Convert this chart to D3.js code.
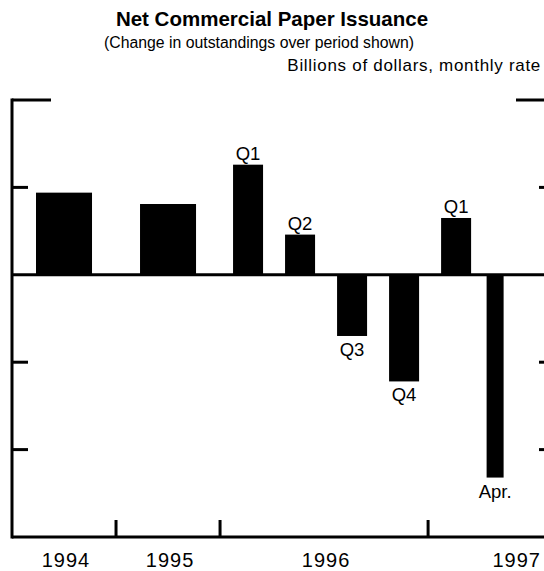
<!DOCTYPE html>
<html>
<head>
<meta charset="utf-8">
<script src="https://cdn.jsdelivr.net/npm/d3@7"></script>
<style>
  body { margin: 0; background: #fff; }
  svg { display: block; font-family: "Liberation Sans", Arial, sans-serif; }
  .axis-line { stroke: #000; stroke-width: 3; fill: none; }
  .bar { fill: #000; }
  .bar-label { font-size: 18.5px; }
  .year-label { font-size: 20px; letter-spacing: 1px; }
</style>
</head>
<body>
<svg width="544" height="571"></svg>
<script>
// periods shown, left to right
const periods = ["1994", "1995", "1996 Q1", "1996 Q2", "1996 Q3", "1996 Q4", "1997 Q1", "1997 Apr"]
const kinds = ["year", "year", "quarter", "quarter", "quarter", "quarter", "quarter", "month"]
const barLabels = ["", "", "Q1", "Q2", "Q3", "Q4", "Q1", "Apr."]
// billions of dollars, monthly rate
const values = [4.7, 4.05, 6.3, 2.3, -3.5, -6.1, 3.25, -11.6]
const years = ["1994", "1995", "1996", "1997"]
const yTicks = [-15, -10, -5, 0, 5, 10]

const W = 544, H = 571
const svg = d3.select("svg")

// each period gets room in proportion to its length type
const slotSize = { year: 2, quarter: 1, month: 0.5 }
let acc = 0
const slots = periods.map((p, i) => {
    const s = { start: acc, size: slotSize[kinds[i]], year: p.slice(0, 4) }
    acc += s.size
    return s
})

const x = d3.scaleLinear().domain([0, 10.44]).range([12, 555])
const y = d3.scaleLinear().domain([-15, 10]).range([537, 100])

// titles
svg.append("text")
    .attr("x", 272).attr("y", 26)
    .attr("text-anchor", "middle")
    .style("font-size", "20.5px").style("font-weight", "bold")
    .text("Net Commercial Paper Issuance")

svg.append("text")
    .attr("x", 259).attr("y", 48)
    .attr("text-anchor", "middle")
    .style("font-size", "15.8px")
    .text("(Change in outstandings over period shown)")

svg.append("text")
    .attr("x", 541).attr("y", 71)
    .attr("text-anchor", "end")
    .style("font-size", "17px").style("letter-spacing", "0.7px")
    .text("Billions of dollars, monthly rate")

// bars
const barW = d => x(d.size) - x(0)
const mid = s => x(s.start + s.size / 2) + (s.size < 2 ? 2 : 0)
svg.selectAll("rect.bar")
    .data(values)
    .enter()
    .append("rect")
    .attr("class", "bar")
    .attr("x", (d, i) => mid(slots[i]) - (barW(slots[i]) * 0.5 + 4) / 2)
    .attr("width", (d, i) => barW(slots[i]) * 0.5 + 4)
    .attr("y", d => y(Math.max(d, 0)))
    .attr("height", d => Math.abs(y(d) - y(0)))

// labels on the bars
svg.selectAll("text.bar-label")
    .data(values)
    .enter()
    .append("text")
    .attr("class", "bar-label")
    .attr("text-anchor", "middle")
    .attr("x", (d, i) => mid(slots[i]))
    .attr("y", d => d >= 0 ? y(d) - 5 : y(d) + 20)
    .text((d, i) => barLabels[i])

// frame: left axis, bottom axis, zero line
svg.append("line").attr("class", "axis-line")
    .attr("x1", x(0)).attr("x2", x(0))
    .attr("y1", y(10) - 1.5).attr("y2", y(-15) + 1.5)
svg.append("line").attr("class", "axis-line")
    .attr("x1", x(0)).attr("x2", W)
    .attr("y1", y(-15)).attr("y2", y(-15))
svg.append("line").attr("class", "axis-line")
    .attr("x1", x(0)).attr("x2", W)
    .attr("y1", y(0)).attr("y2", y(0))

// y ticks, both sides, pointing inwards (top one longer)
const rightEdge = x.range()[1]
yTicks.filter(t => t !== -15 && t !== 0).forEach(t => {
    const len = t === 10 ? 39 : 16
    svg.append("line").attr("class", "axis-line")
        .attr("x1", x(0)).attr("x2", x(0) + len)
        .attr("y1", y(t)).attr("y2", y(t))
    svg.append("line").attr("class", "axis-line")
        .attr("x1", rightEdge - len).attr("x2", rightEdge)
        .attr("y1", y(t)).attr("y2", y(t))
})

// year boundaries and labels
const yearSpan = years.map(yr => {
    const ss = slots.filter(s => s.year === yr)
    return { yr, start: ss[0].start, end: ss[ss.length - 1].start + ss[ss.length - 1].size }
})
yearSpan.slice(1).forEach(d => {
    svg.append("line").attr("class", "axis-line")
        .attr("x1", x(d.start)).attr("x2", x(d.start))
        .attr("y1", y(-15)).attr("y2", y(-15) - 17)
})
svg.selectAll("text.year-label")
    .data(yearSpan)
    .enter()
    .append("text")
    .attr("class", "year-label")
    .attr("x", (d, i) => i === yearSpan.length - 1 ? W - 3 : x((d.start + d.end) / 2) + 2)
    .attr("text-anchor", (d, i) => i === yearSpan.length - 1 ? "end" : "middle")
    .attr("y", 567)
    .text(d => d.yr)
</script>
</body>
</html>
